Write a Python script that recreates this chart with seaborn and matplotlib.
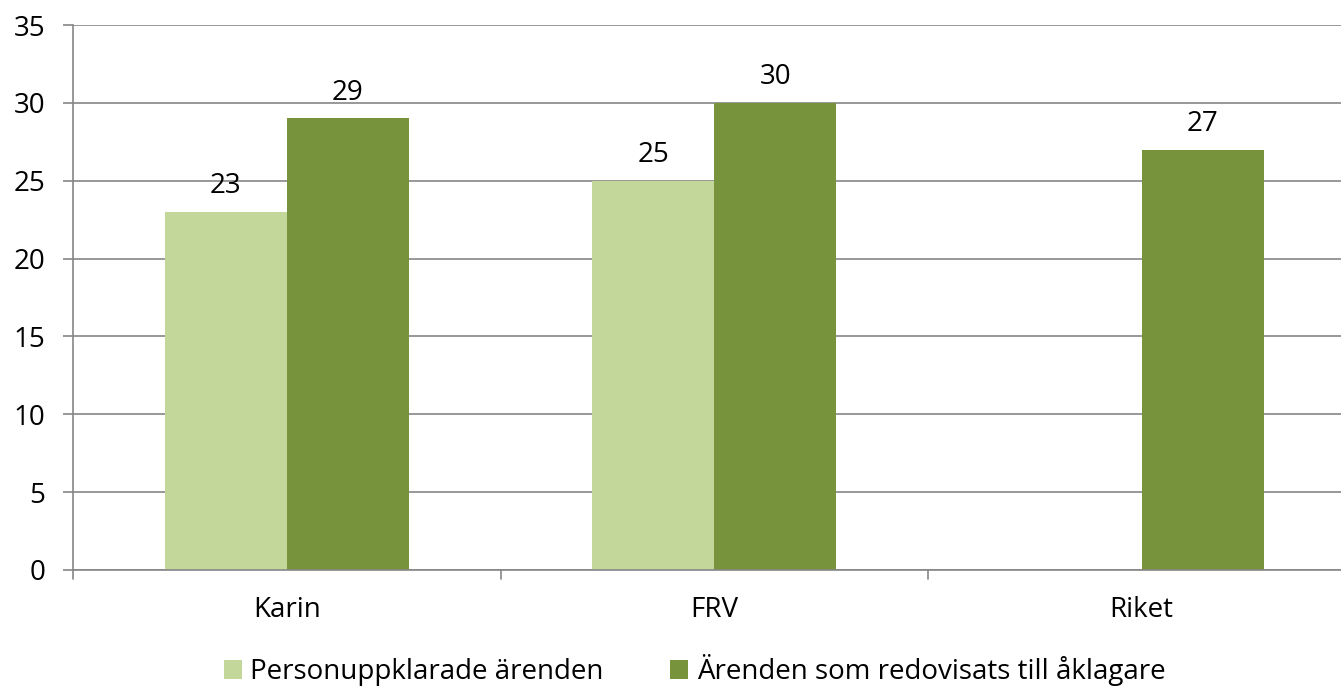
import numpy as np
import pandas as pd
import seaborn as sns
import matplotlib.pyplot as plt
from matplotlib.patches import Patch

sns.set_style('white')
plt.rcParams['font.family'] = ['Open Sans', 'DejaVu Sans']
plt.rcParams['text.color'] = 'black'
plt.rcParams['xtick.color'] = 'black'
plt.rcParams['ytick.color'] = 'black'

categories = ['Karin', 'FRV', 'Riket']
series = ['Personuppklarade ärenden', 'Ärenden som redovisats till åklagare']
personupp = [23, 25, np.nan]
redovisat = [29, 30, 27]
colors = ['#C4D79B', '#77933C']

df = pd.DataFrame({
    'kategori': categories * 2,
    'serie': [series[0]] * 3 + [series[1]] * 3,
    'varde': personupp + redovisat,
})

W, H = 1341, 689
fs = 20
fig = plt.figure(figsize=(W / 100, H / 100), dpi=100)
# axes runs past the right edge of the picture like the original
ax = fig.add_axes([73 / W, (H - 570) / H, (1355.5 - 73) / W, (570 - 25) / H])

sns.barplot(data=df, x='kategori', y='varde', hue='serie', order=categories,
            hue_order=series, palette=colors, width=0.57, saturation=1,
            ax=ax, legend=False, linewidth=0)

ax.set_xlim(-0.5, 2.5)
ax.set_ylim(0, 35)
ax.set_yticks(range(0, 36, 5))
ax.set_xlabel('')
ax.set_ylabel('')
ax.yaxis.grid(True, color='#868686', linewidth=1.2)
ax.set_axisbelow(True)
for s in ['top', 'right']:
    ax.spines[s].set_visible(False)
for s in ['left', 'bottom']:
    ax.spines[s].set_color('#868686')
    ax.spines[s].set_linewidth(1.2)

# y tick marks continue the gridlines outward
ax.tick_params(axis='y', length=7, width=1.2, color='#868686', labelcolor='black',
               labelsize=fs, pad=13, left=True)
ax.set_xticks([0, 1, 2])
ax.set_xticklabels(categories)
ax.tick_params(axis='x', length=0, labelsize=fs, labelcolor='black', pad=19)
for b in [-0.5, 0.5, 1.5]:
    ax.plot([b, b], [0, -0.55], color='#868686', lw=1.2, clip_on=False)

for cont in ax.containers:
    for bar in cont:
        h = bar.get_height()
        if np.isnan(h) or h == 0:
            continue
        ax.text(bar.get_x() + bar.get_width() / 2, h + 0.75, f'{int(h)}',
                ha='center', va='bottom', fontsize=fs)

handles = [Patch(facecolor=c, edgecolor='none') for c in colors]
fig.legend(handles, series, loc='center', bbox_to_anchor=(0.518, 1 - 670 / H),
           ncol=2, frameon=False, fontsize=fs, handlelength=0.65, handleheight=0.65,
           handletextpad=0.3, columnspacing=2.4)

fig.savefig('out.png', dpi=100)
